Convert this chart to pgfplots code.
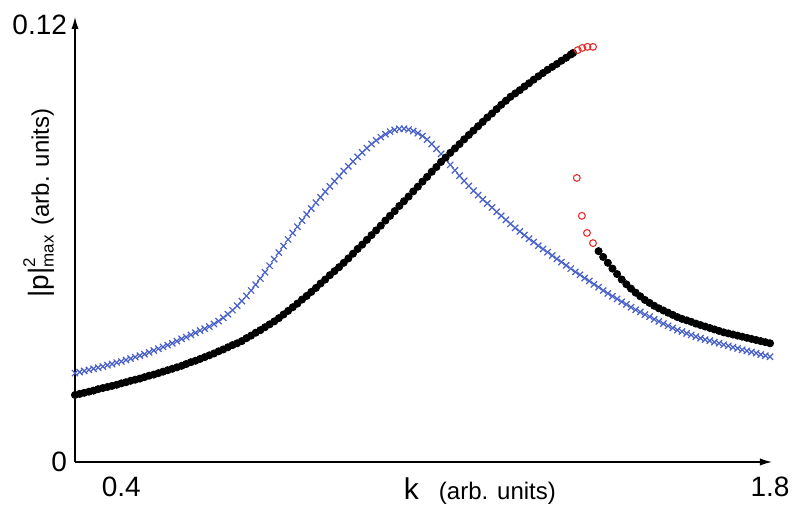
\documentclass[border=0pt]{standalone}
\usepackage{pgfplots}
\pgfplotsset{compat=1.18}
\usepackage{pgfplotstable}
\usepackage{fontspec}
\setmainfont{Liberation Sans}
\usetikzlibrary{arrows.meta}
\definecolor{myblue}{RGB}{72,96,200}
\definecolor{myred}{RGB}{235,45,45}

\pgfplotstableread{
k v
0.30 0.0184
0.31 0.0187
0.32 0.0190
0.33 0.0193
0.34 0.0196
0.35 0.0200
0.36 0.0203
0.37 0.0206
0.38 0.0209
0.39 0.0212
0.40 0.0216
0.41 0.0219
0.42 0.0223
0.43 0.0226
0.44 0.0229
0.45 0.0233
0.46 0.0237
0.47 0.0240
0.48 0.0244
0.49 0.0248
0.50 0.0252
0.51 0.0256
0.52 0.0260
0.53 0.0264
0.54 0.0269
0.55 0.0274
0.56 0.0278
0.57 0.0283
0.58 0.0288
0.59 0.0293
0.60 0.0298
0.61 0.0304
0.62 0.0309
0.63 0.0315
0.64 0.0321
0.65 0.0326
0.66 0.0332
0.67 0.0340
0.68 0.0347
0.69 0.0355
0.70 0.0362
0.71 0.0370
0.72 0.0378
0.73 0.0386
0.74 0.0395
0.75 0.0405
0.76 0.0415
0.77 0.0425
0.78 0.0435
0.79 0.0446
0.80 0.0456
0.81 0.0467
0.82 0.0478
0.83 0.0490
0.84 0.0501
0.85 0.0513
0.86 0.0524
0.87 0.0535
0.88 0.0547
0.89 0.0559
0.90 0.0572
0.91 0.0585
0.92 0.0597
0.93 0.0610
0.94 0.0623
0.95 0.0636
0.96 0.0649
0.97 0.0663
0.98 0.0676
0.99 0.0689
1.00 0.0703
1.01 0.0716
1.02 0.0729
1.03 0.0743
1.04 0.0756
1.05 0.0770
1.06 0.0783
1.07 0.0797
1.08 0.0810
1.09 0.0824
1.10 0.0836
1.11 0.0849
1.12 0.0861
1.13 0.0873
1.14 0.0886
1.15 0.0898
1.16 0.0910
1.17 0.0922
1.18 0.0934
1.19 0.0946
1.20 0.0957
1.21 0.0969
1.22 0.0981
1.23 0.0992
1.24 0.1003
1.25 0.1012
1.26 0.1021
1.27 0.1031
1.28 0.1040
1.29 0.1050
1.30 0.1059
1.31 0.1068
1.32 0.1077
1.33 0.1085
1.34 0.1093
1.35 0.1102
1.36 0.1110
1.37 0.1119
1.375 0.1123
}\blackupper

\pgfplotstableread{
k v
1.43 0.0579
1.44 0.0563
1.45 0.0547
1.46 0.0531
1.47 0.0516
1.48 0.0501
1.49 0.0488
1.50 0.0476
1.51 0.0465
1.52 0.0455
1.53 0.0445
1.54 0.0437
1.55 0.0429
1.56 0.0422
1.57 0.0416
1.58 0.0410
1.59 0.0404
1.60 0.0398
1.61 0.0393
1.62 0.0389
1.63 0.0385
1.64 0.0380
1.65 0.0376
1.66 0.0372
1.67 0.0368
1.68 0.0364
1.69 0.0360
1.70 0.0356
1.71 0.0353
1.72 0.0350
1.73 0.0347
1.74 0.0344
1.75 0.0341
1.76 0.0338
1.77 0.0335
1.78 0.0332
1.79 0.0329
1.80 0.0326
}\blacklower

\pgfplotstableread{
k v
1.385 0.1131
1.395 0.1137
1.406 0.1140
1.418 0.1140
1.383 0.0780
1.394 0.0676
1.405 0.0629
1.418 0.0601
}\redpts

\pgfplotstableread{
k v
0.30 0.0244
0.31 0.0247
0.32 0.0250
0.33 0.0253
0.34 0.0256
0.35 0.0259
0.36 0.0262
0.37 0.0266
0.38 0.0269
0.39 0.0273
0.40 0.0276
0.41 0.0280
0.42 0.0284
0.43 0.0288
0.44 0.0292
0.45 0.0296
0.46 0.0301
0.47 0.0306
0.48 0.0311
0.49 0.0316
0.50 0.0321
0.51 0.0326
0.52 0.0332
0.53 0.0338
0.54 0.0343
0.55 0.0349
0.56 0.0355
0.57 0.0361
0.58 0.0366
0.59 0.0372
0.60 0.0379
0.61 0.0387
0.62 0.0396
0.63 0.0406
0.64 0.0417
0.65 0.0429
0.66 0.0442
0.67 0.0456
0.68 0.0471
0.69 0.0487
0.70 0.0504
0.71 0.0521
0.72 0.0539
0.73 0.0557
0.74 0.0575
0.75 0.0593
0.76 0.0611
0.77 0.0629
0.78 0.0646
0.79 0.0663
0.80 0.0680
0.81 0.0696
0.82 0.0712
0.83 0.0727
0.84 0.0742
0.85 0.0757
0.86 0.0771
0.87 0.0785
0.88 0.0799
0.89 0.0812
0.90 0.0825
0.91 0.0838
0.92 0.0850
0.93 0.0862
0.94 0.0873
0.95 0.0883
0.96 0.0892
0.97 0.0900
0.98 0.0907
0.99 0.0912
1.00 0.0915
1.01 0.0915
1.02 0.0913
1.03 0.0909
1.04 0.0903
1.05 0.0895
1.06 0.0885
1.07 0.0873
1.08 0.0860
1.09 0.0846
1.10 0.0831
1.11 0.0816
1.12 0.0801
1.13 0.0786
1.14 0.0772
1.15 0.0758
1.16 0.0745
1.17 0.0733
1.18 0.0721
1.19 0.0710
1.20 0.0699
1.21 0.0687
1.22 0.0676
1.23 0.0665
1.24 0.0654
1.25 0.0643
1.26 0.0633
1.27 0.0623
1.28 0.0613
1.29 0.0604
1.30 0.0594
1.31 0.0585
1.32 0.0576
1.33 0.0567
1.34 0.0558
1.35 0.0549
1.36 0.0540
1.37 0.0531
1.38 0.0522
1.39 0.0514
1.40 0.0505
1.41 0.0497
1.42 0.0488
1.43 0.0480
1.44 0.0471
1.45 0.0463
1.46 0.0455
1.47 0.0448
1.48 0.0440
1.49 0.0433
1.50 0.0425
1.51 0.0418
1.52 0.0412
1.53 0.0405
1.54 0.0399
1.55 0.0392
1.56 0.0386
1.57 0.0380
1.58 0.0374
1.59 0.0368
1.60 0.0362
1.61 0.0358
1.62 0.0353
1.63 0.0349
1.64 0.0344
1.65 0.0340
1.66 0.0336
1.67 0.0333
1.68 0.0329
1.69 0.0326
1.70 0.0322
1.71 0.0319
1.72 0.0315
1.73 0.0312
1.74 0.0308
1.75 0.0305
1.76 0.0302
1.77 0.0299
1.78 0.0295
1.79 0.0292
1.80 0.0289
}\bluepts

\begin{document}
\begin{tikzpicture}
\begin{axis}[
  at={(0,0)}, anchor=south west,
  scale only axis,
  width=348.5pt, height=222.5pt,
  xmin=0.3, xmax=1.8043,
  ymin=0, ymax=0.1222,
  axis lines=left,
  axis line style={line width=0.6pt, -{Latex[length=6pt,width=3.6pt]}},
  major tick length=0pt,
  xtick={0.4,1.8}, xticklabels={0.4,1.8},
  ytick={0,0.12}, yticklabels={0,0.12},
  tick label style={font=\fontsize{14}{16}\selectfont},
  xticklabel style={yshift=-4pt},
  yticklabel style={xshift=-0.5pt},
  xlabel={{\fontsize{15}{18}\selectfont k}\hspace{10pt}{\fontsize{12}{14}\selectfont (arb. units)}},
  xlabel style={at={(rel axis cs:0.581,0)}, anchor=base, yshift=-19pt, inner sep=0pt},
  ylabel={{\fontsize{14}{16}\selectfont |p|}\rlap{\raisebox{1.3ex}{\fontsize{8.5}{9}\selectfont 2}}\raisebox{-0.45ex}{\fontsize{8.5}{9}\selectfont max}\hspace{5pt}{\fontsize{12}{14}\selectfont (arb. units)}},
  ylabel style={at={(rel axis cs:-0.0517,0.582)}, anchor=center, inner sep=0pt},
  clip=false,
]
\addplot[only marks, mark=x, mark size=2.2pt, color=myblue, mark options={line width=0.6pt}] table[x=k,y=v] {\bluepts};
\addplot[only marks, mark=*, mark size=1.8pt, color=black] table[x=k,y=v] {\blackupper};
\addplot[only marks, mark=*, mark size=1.8pt, color=black] table[x=k,y=v] {\blacklower};
\addplot[only marks, mark=o, mark size=1.7pt, color=myred, mark options={line width=0.55pt}] table[x=k,y=v] {\redpts};
\end{axis}
\pgfresetboundingbox
\path (-37.5pt,-27.5pt) rectangle (362.5pt,231pt);
\end{tikzpicture}
\end{document}
